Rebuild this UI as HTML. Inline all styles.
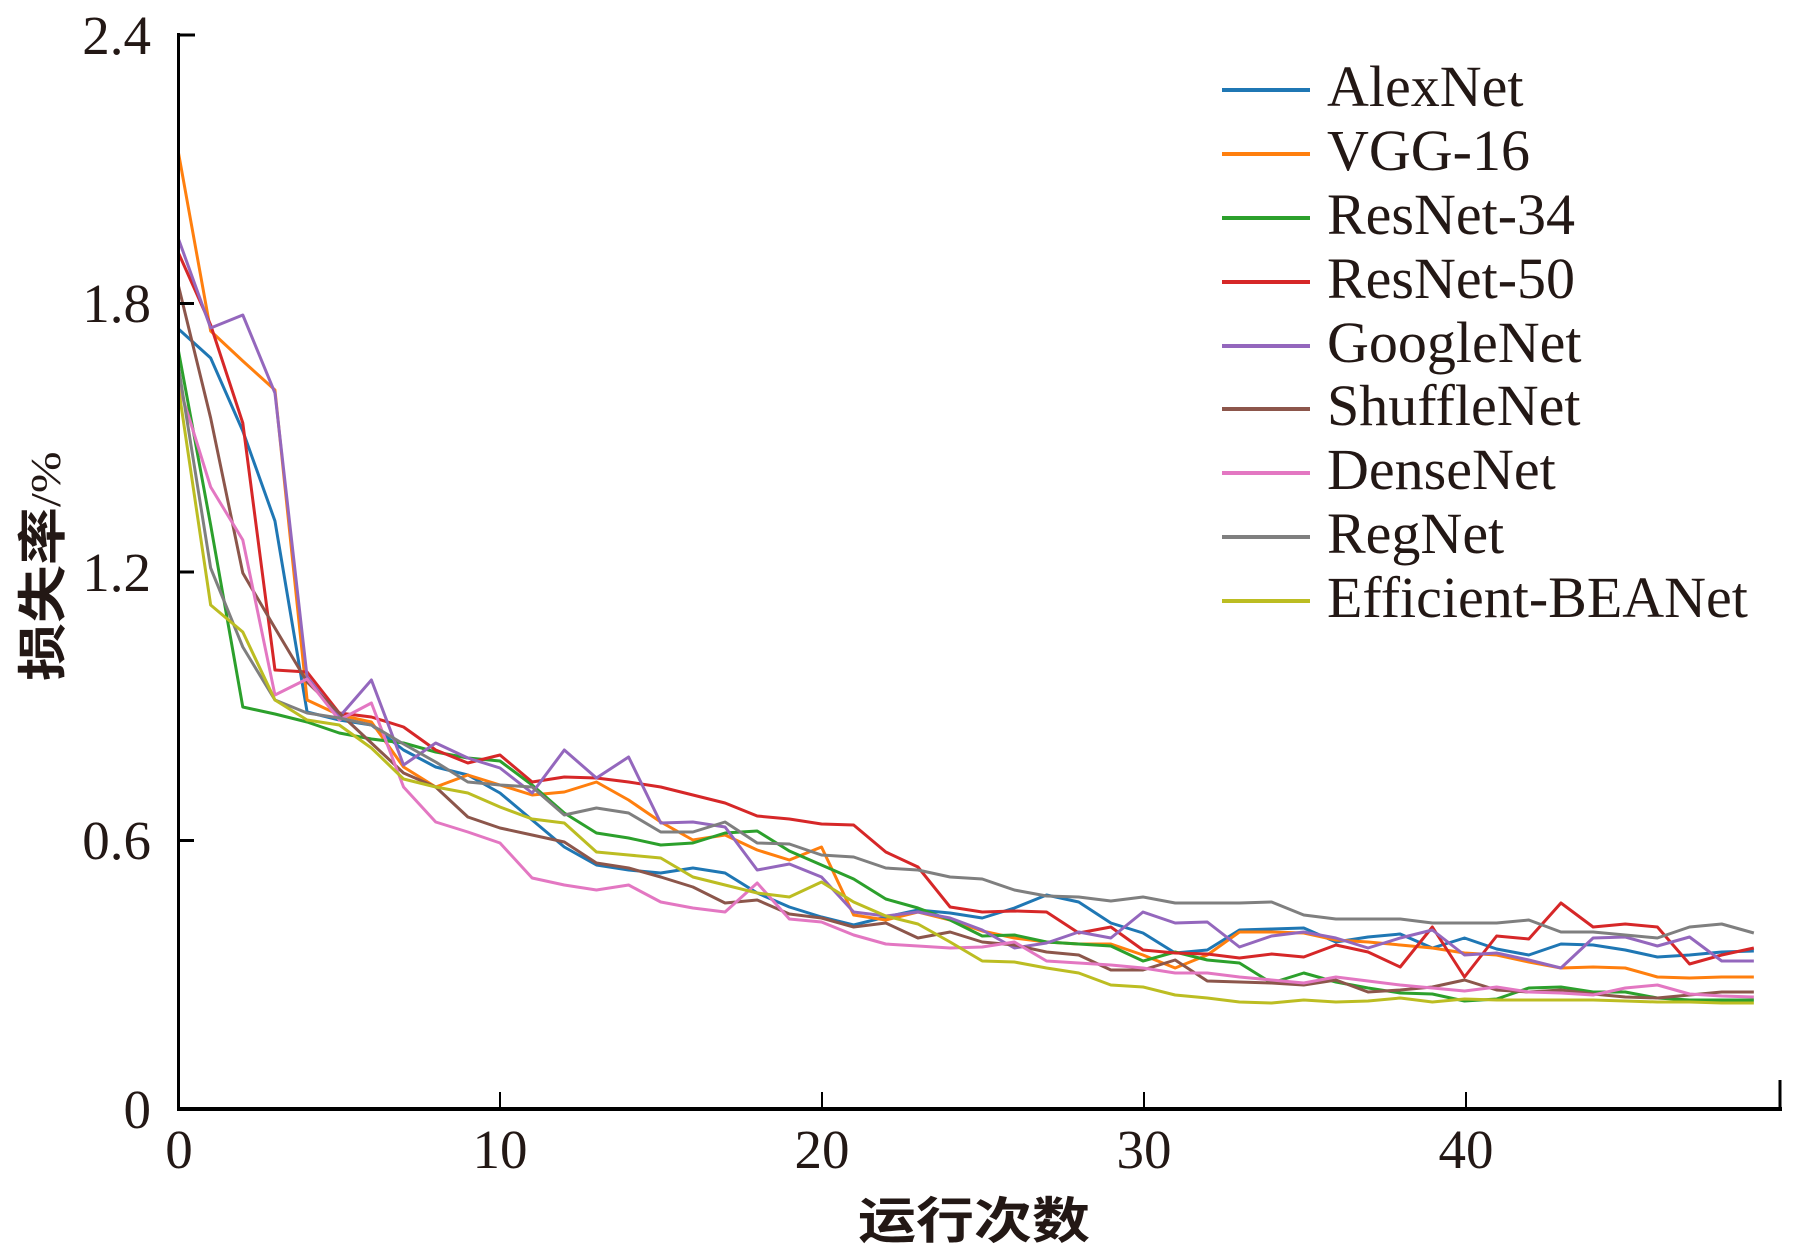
<!DOCTYPE html>
<html>
<head>
<meta charset="utf-8">
<style>
html,body{margin:0;padding:0;background:#fff;}
svg{display:block;}
.tick{font-family:"Liberation Serif","Times New Roman",serif;font-size:55px;fill:#231815;}
.leg{font-family:"Liberation Serif","Times New Roman",serif;font-size:58px;fill:#231815;}
.cjk{font-family:"Liberation Sans","Noto Sans CJK SC","WenQuanYi Zen Hei",sans-serif;font-weight:700;fill:#231815;}
polyline{fill:none;stroke-width:3;stroke-linejoin:round;vector-effect:non-scaling-stroke;}
</style>
</head>
<body>
<svg width="1796" height="1250" viewBox="0 0 1796 1250" xmlns="http://www.w3.org/2000/svg">
<rect width="1796" height="1250" fill="#fff"/>

<!-- series -->
<g transform="translate(178.5 0) scale(32.15 1)">
<polyline stroke="#1f77b4" points="0,329 1,358 2,431 3,521 4,712 5,720 6,725 7,750 8,767 9,775 10,793 11,820 12,847 13,865 14,870 15,873 16,868 17,873 18,893 19,907 20,917 21,925 22,917 23,910 24,913 25,918 26,908 27,895 28,902 29,923 30,933 31,953 32,950 33,930 34,929 35,928 36,942 37,937 38,934 39,948 40,938 41,949 42,955 43,944 44,945 45,950 46,957 47,955 48,952 49,951"/>
<polyline stroke="#ff7f0e" points="0,153 1,331 2,361 3,390 4,700 5,715 6,722 7,767 8,787 9,775 10,785 11,795 12,792 13,782 14,800 15,822 16,840 17,835 18,850 19,860 20,847 21,915 22,920 23,912 24,920 25,931 26,938 27,942 28,944 29,944 30,955 31,968 32,955 33,932 34,932 35,933 36,940 37,942 38,945 39,948 40,953 41,955 42,962 43,968 44,967 45,968 46,977 47,978 48,977 49,977"/>
<polyline stroke="#2ca02c" points="0,351 1,525 2,707 3,714 4,722 5,733 6,739 7,743 8,752 9,758 10,761 11,785 12,813 13,833 14,838 15,845 16,843 17,833 18,831 19,851 20,865 21,879 22,899 23,908 24,920 25,936 26,935 27,942 28,944 29,946 30,961 31,952 32,960 33,963 34,983 35,973 36,982 37,988 38,993 39,994 40,1001 41,999 42,988 43,987 44,992 45,992 46,998 47,1000 48,1000 49,1000"/>
<polyline stroke="#d62728" points="0,253 1,325 2,423 3,670 4,672 5,713 6,717 7,727 8,750 9,763 10,755 11,782 12,777 13,778 14,782 15,787 16,795 17,803 18,816 19,819 20,824 21,825 22,852 23,867 24,907 25,912 26,911 27,912 28,933 29,927 30,950 31,953 32,954 33,958 34,954 35,957 36,945 37,952 38,967 39,927 40,977 41,936 42,939 43,903 44,927 45,924 46,927 47,964 48,955 49,948"/>
<polyline stroke="#9467bd" points="0,239 1,328 2,315 3,393 4,677 5,717 6,680 7,765 8,743 9,758 10,768 11,793 12,750 13,778 14,757 15,823 16,822 17,827 18,870 19,864 20,877 21,912 22,916 23,912 24,918 25,930 26,948 27,943 28,932 29,938 30,912 31,923 32,922 33,947 34,936 35,932 36,938 37,948 38,938 39,930 40,955 41,953 42,960 43,968 44,938 45,937 46,946 47,937 48,961 49,961"/>
<polyline stroke="#8c564b" points="0,286 1,418 2,573 3,628 4,682 5,713 6,743 7,773 8,787 9,817 10,828 11,835 12,842 13,863 14,868 15,877 16,887 17,903 18,900 19,914 20,918 21,927 22,923 23,938 24,932 25,942 26,945 27,952 28,955 29,970 30,970 31,960 32,981 33,982 34,983 35,985 36,980 37,992 38,990 39,987 40,980 41,990 42,992 43,990 44,994 45,997 46,998 47,995 48,992 49,992"/>
<polyline stroke="#e377c2" points="0,385 0.4,425 1,487 2,540 3,695 4,679 5,720 6,703 7,787 8,822 9,832 10,843 11,878 12,885 13,890 14,885 15,902 16,908 17,912 18,883 19,919 20,922 21,935 22,944 23,946 24,948 25,947 26,942 27,961 28,963 29,965 30,968 31,973 32,973 33,977 34,980 35,983 36,977 37,981 38,985 39,988 40,991 41,987 42,992 43,993 44,995 45,988 46,985 47,994 48,996 49,997"/>
<polyline stroke="#7f7f7f" points="0,367 1,568 2,647 3,700 4,713 5,718 6,725 7,744 8,762 9,782 10,785 11,787 12,815 13,808 14,813 15,832 16,832 17,822 18,843 19,844 20,855 21,857 22,868 23,870 24,877 25,879 26,890 27,896 28,897 29,901 30,897 31,903 32,903 33,903 34,902 35,915 36,919 37,919 38,919 39,923 40,923 41,923 42,920 43,932 44,932 45,935 46,938 47,927 48,924 49,933"/>
<polyline stroke="#bcbd22" points="0,388 1,605 2,632 3,700 4,720 5,725 6,748 7,779 8,787 9,793 10,807 11,819 12,823 13,852 14,855 15,858 16,877 17,885 18,893 19,897 20,882 21,902 22,916 23,924 24,942 25,961 26,962 27,968 28,973 29,985 30,987 31,995 32,998 33,1002 34,1003 35,1000 36,1002 37,1001 38,998 39,1002 40,999 41,1000 42,1000 43,1000 44,1000 45,1001 46,1002 47,1002 48,1003 49,1003"/>
</g>

<!-- axes -->
<g stroke="#000" fill="none">
<line x1="178.5" y1="33" x2="178.5" y2="1111" stroke-width="3"/>
<line x1="177" y1="1109" x2="1782" y2="1109" stroke-width="4"/>
<line x1="178.5" y1="35" x2="195" y2="35" stroke-width="3"/>
<line x1="178.5" y1="303.5" x2="194" y2="303.5" stroke-width="3"/>
<line x1="178.5" y1="572" x2="194" y2="572" stroke-width="3"/>
<line x1="178.5" y1="840.5" x2="194" y2="840.5" stroke-width="3"/>
<line x1="500" y1="1092" x2="500" y2="1109" stroke-width="2"/>
<line x1="822" y1="1092" x2="822" y2="1109" stroke-width="2"/>
<line x1="1144" y1="1092" x2="1144" y2="1109" stroke-width="2"/>
<line x1="1466" y1="1092" x2="1466" y2="1109" stroke-width="2"/>
<line x1="1780" y1="1080" x2="1780" y2="1109" stroke-width="3"/>
</g>

<!-- y tick labels -->
<g class="tick" text-anchor="end">
<text x="151" y="54">2.4</text>
<text x="151" y="322">1.8</text>
<text x="151" y="591">1.2</text>
<text x="151" y="859">0.6</text>
<text x="151" y="1128">0</text>
</g>
<!-- x tick labels -->
<g class="tick" text-anchor="middle">
<text x="179" y="1168">0</text>
<text x="500" y="1168">10</text>
<text x="822" y="1168">20</text>
<text x="1144" y="1168">30</text>
<text x="1466" y="1168">40</text>
</g>

<!-- axis titles -->
<text class="cjk" font-size="58" text-anchor="middle" transform="translate(974 1238) scale(1 0.85)">运行次数</text>
<text transform="translate(60 681) rotate(-90) scale(1 0.85)"><tspan class="cjk" font-size="58">损失率</tspan><tspan font-family="Liberation Serif, serif" font-size="50" fill="#231815">/%</tspan></text>

<!-- legend -->
<g stroke-width="4">
<line x1="1222" y1="90" x2="1310" y2="90" stroke="#1f77b4"/>
<line x1="1222" y1="154" x2="1310" y2="154" stroke="#ff7f0e"/>
<line x1="1222" y1="218" x2="1310" y2="218" stroke="#2ca02c"/>
<line x1="1222" y1="282" x2="1310" y2="282" stroke="#d62728"/>
<line x1="1222" y1="346" x2="1310" y2="346" stroke="#9467bd"/>
<line x1="1222" y1="409" x2="1310" y2="409" stroke="#8c564b"/>
<line x1="1222" y1="473" x2="1310" y2="473" stroke="#e377c2"/>
<line x1="1222" y1="537" x2="1310" y2="537" stroke="#7f7f7f"/>
<line x1="1222" y1="601" x2="1310" y2="601" stroke="#bcbd22"/>
</g>
<g class="leg">
<text x="1327" y="106">AlexNet</text>
<text x="1327" y="170">VGG-16</text>
<text x="1327" y="234">ResNet-34</text>
<text x="1327" y="298">ResNet-50</text>
<text x="1327" y="362">GoogleNet</text>
<text x="1327" y="425">ShuffleNet</text>
<text x="1327" y="489">DenseNet</text>
<text x="1327" y="553">RegNet</text>
<text x="1327" y="617">Efficient-BEANet</text>
</g>
</svg>
</body>
</html>
